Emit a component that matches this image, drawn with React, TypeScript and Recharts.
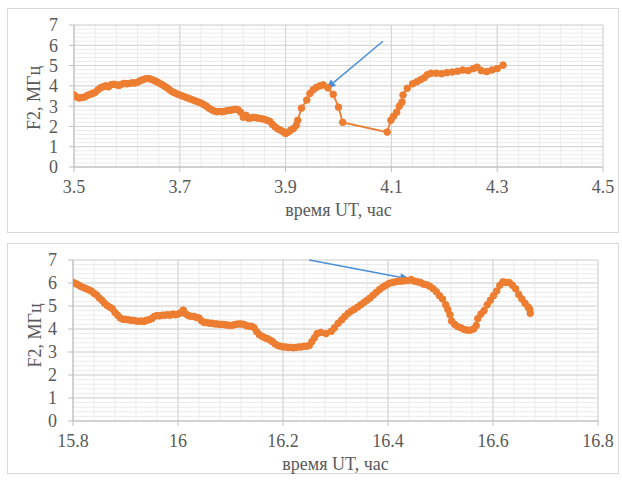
import React from 'react';
import { ComposedChart, Line, XAxis, YAxis, CartesianGrid, ReferenceLine } from 'recharts';

// ---------- data ----------
const topTime = [
  3.500, 3.505, 3.510, 3.515, 3.520, 3.525, 3.530, 3.535, 3.540, 3.545,
  3.550, 3.555, 3.560, 3.565, 3.570, 3.575, 3.580, 3.585, 3.590, 3.595,
  3.600, 3.605, 3.610, 3.615, 3.620, 3.625, 3.630, 3.635, 3.640, 3.645,
  3.650, 3.655, 3.660, 3.665, 3.670, 3.675, 3.680, 3.685, 3.690, 3.695,
  3.700, 3.705, 3.710, 3.715, 3.720, 3.725, 3.730, 3.735, 3.740, 3.745,
  3.750, 3.755, 3.760, 3.765, 3.770, 3.775, 3.780, 3.785, 3.790, 3.795,
  3.800, 3.805, 3.810, 3.815, 3.820, 3.825, 3.830, 3.835, 3.840, 3.845,
  3.850, 3.855, 3.860, 3.865, 3.870, 3.875, 3.880, 3.885, 3.890, 3.895,
  3.900, 3.905, 3.910, 3.915, 3.920,
  3.923, 3.930, 3.940, 3.946, 3.952, 3.958, 3.965, 3.971, 3.980, 3.990,
  4.000, 4.008, 4.092, 4.099, 4.104, 4.110, 4.115, 4.120, 4.122, 4.130,
  4.140, 4.148, 4.155, 4.162, 4.168, 4.175, 4.185, 4.195, 4.205, 4.215,
  4.225, 4.235, 4.245, 4.255, 4.262, 4.270, 4.280, 4.290, 4.300, 4.311,
];
const topF2 = [
  3.55, 3.45, 3.40, 3.42, 3.45, 3.52, 3.58, 3.62, 3.68, 3.80,
  3.90, 3.95, 4.00, 3.95, 4.05, 4.08, 4.05, 4.02, 4.08, 4.12,
  4.10, 4.12, 4.15, 4.14, 4.18, 4.25, 4.30, 4.35, 4.36, 4.33,
  4.28, 4.22, 4.15, 4.08, 4.00, 3.92, 3.82, 3.72, 3.66, 3.60,
  3.55, 3.50, 3.45, 3.40, 3.35, 3.30, 3.25, 3.20, 3.15, 3.08,
  3.00, 2.90, 2.82, 2.76, 2.72, 2.74, 2.72, 2.75, 2.78, 2.80,
  2.82, 2.85, 2.82, 2.70, 2.45, 2.55, 2.40, 2.42, 2.45, 2.42,
  2.40, 2.38, 2.35, 2.30, 2.25, 2.10, 1.98, 1.88, 1.82, 1.75,
  1.65, 1.72, 1.82, 1.90, 2.05,
  2.30, 2.90, 3.30, 3.62, 3.80, 3.92, 4.00, 4.05, 3.90, 3.58,
  2.95, 2.20, 1.72, 2.30, 2.50, 2.70, 3.00, 3.20, 3.55, 3.88,
  4.10, 4.20, 4.30, 4.40, 4.55, 4.62, 4.62, 4.60, 4.65, 4.68,
  4.72, 4.78, 4.75, 4.85, 4.92, 4.75, 4.70, 4.78, 4.85, 5.02,
];

const bottomTime = [
  15.800, 15.805, 15.810, 15.815, 15.820, 15.825, 15.830, 15.835, 15.840, 15.845,
  15.850, 15.855, 15.860, 15.865, 15.870, 15.875, 15.880, 15.885, 15.890, 15.895,
  15.900, 15.905, 15.910, 15.915, 15.920, 15.925, 15.930, 15.935, 15.940, 15.945,
  15.950, 15.955, 15.960, 15.965, 15.970, 15.975, 15.980, 15.985, 15.990, 15.995,
  16.000, 16.005, 16.010, 16.015, 16.020, 16.025, 16.030, 16.035, 16.040, 16.045,
  16.050, 16.055, 16.060, 16.065, 16.070, 16.075, 16.080, 16.085, 16.090, 16.095,
  16.100, 16.105, 16.110, 16.115, 16.120, 16.125, 16.130, 16.135, 16.140, 16.145,
  16.150, 16.155, 16.160, 16.165, 16.170, 16.175, 16.180, 16.185, 16.190, 16.195,
  16.200, 16.205, 16.210, 16.215, 16.220, 16.225, 16.230, 16.235, 16.240, 16.245,
  16.250, 16.255, 16.260, 16.265, 16.272, 16.282, 16.292, 16.298, 16.305, 16.312,
  16.318, 16.324, 16.330, 16.336, 16.342, 16.348, 16.354, 16.360, 16.366, 16.372,
  16.378, 16.384, 16.390, 16.396, 16.402, 16.408, 16.414, 16.420, 16.426, 16.432,
  16.438, 16.444, 16.450, 16.456, 16.462, 16.468, 16.474, 16.480, 16.486, 16.492,
  16.498, 16.504, 16.510, 16.514, 16.518, 16.521, 16.527, 16.533, 16.539, 16.545,
  16.551, 16.557, 16.563, 16.568, 16.571, 16.577, 16.583, 16.589, 16.595, 16.601,
  16.607, 16.613, 16.619, 16.625, 16.631, 16.637, 16.643, 16.649, 16.655, 16.661,
  16.667, 16.670, 16.671,
];
const bottomF2 = [
  6.02, 5.98, 5.92, 5.85, 5.80, 5.75, 5.70, 5.65, 5.55, 5.48,
  5.35, 5.25, 5.12, 5.02, 4.95, 4.88, 4.72, 4.60, 4.48, 4.42,
  4.42, 4.40, 4.38, 4.38, 4.35, 4.33, 4.35, 4.33, 4.38, 4.40,
  4.45, 4.55, 4.58, 4.57, 4.60, 4.60, 4.62, 4.60, 4.65, 4.62,
  4.65, 4.70, 4.82, 4.65, 4.58, 4.55, 4.55, 4.50, 4.48, 4.35,
  4.28, 4.28, 4.25, 4.25, 4.22, 4.22, 4.20, 4.20, 4.18, 4.17,
  4.15, 4.17, 4.20, 4.22, 4.22, 4.20, 4.15, 4.12, 4.12, 4.05,
  3.88, 3.75, 3.68, 3.62, 3.58, 3.52, 3.45, 3.35, 3.28, 3.25,
  3.22, 3.22, 3.20, 3.20, 3.18, 3.20, 3.22, 3.22, 3.25, 3.25,
  3.28, 3.45, 3.62, 3.80, 3.85, 3.80, 3.90, 4.05, 4.25, 4.40,
  4.55, 4.68, 4.78, 4.86, 4.95, 5.05, 5.15, 5.25, 5.35, 5.48,
  5.60, 5.72, 5.82, 5.90, 5.98, 6.02, 6.05, 6.08, 6.08, 6.10,
  6.10, 6.15, 6.08, 6.05, 6.02, 5.95, 5.92, 5.85, 5.75, 5.62,
  5.45, 5.30, 5.05, 4.85, 4.62, 4.35, 4.20, 4.10, 4.05, 3.98,
  3.95, 3.95, 4.00, 4.15, 4.45, 4.65, 4.80, 5.05, 5.25, 5.45,
  5.65, 5.90, 6.05, 6.02, 6.02, 5.90, 5.75, 5.50, 5.30, 5.12,
  4.95, 4.85, 4.68,
];

const topXTicks = [3.5, 3.7, 3.9, 4.1, 4.3, 4.5];
const bottomXTicks = [15.8, 16, 16.2, 16.4, 16.6, 16.8];
const yTicks = [0, 1, 2, 3, 4, 5, 6, 7];

// arrow annotations (start -> end, data coordinates)
const topArrow = [{ x: 4.084, y: 6.2 }, { x: 3.976, y: 3.84 }];
const bottomArrow = [{ x: 16.25, y: 7.0 }, { x: 16.442, y: 6.17 }];

const yTitle = 'F2, МГц';
const xTitle = 'время UT, час';

// ---------- helpers ----------
const steps = (a: number, b: number, s: number) => {
  const out: number[] = [];
  const n = Math.round((b - a) / s);
  for (let i = 0; i <= n; i++) out.push(Math.round((a + i * s) * 1000) / 1000);
  return out;
};

const topData = topTime.map((t, i) => ({ t, v: topF2[i] }));
const bottomData = bottomTime.map((t, i) => ({ t, v: bottomF2[i] }));

const ORANGE = '#ED7D31';
const BLUE = '#4A8FD8';
const FONT = '"Liberation Serif", "Times New Roman", serif';
const tickStyle = { fill: '#595959', fontSize: 18, fontFamily: FONT };

const arrowShape = (p: any) => {
  const { x1, y1, x2, y2 } = p;
  const ang = Math.atan2(y2 - y1, x2 - x1);
  const L = 10, W = 4;
  const bx = x2 - L * Math.cos(ang);
  const by = y2 - L * Math.sin(ang);
  const px = -Math.sin(ang) * W;
  const py = Math.cos(ang) * W;
  return (
    <g>
      <line x1={x1} y1={y1} x2={bx} y2={by} stroke={BLUE} strokeWidth={1.5} />
      <polygon points={`${x2},${y2} ${bx + px},${by + py} ${bx - px},${by - py}`} fill={BLUE} />
    </g>
  );
};

type PanelProps = {
  data: { t: number; v: number }[];
  domain: [number, number];
  ticks: number[];
  arrow: { x: number; y: number }[];
  width: number;
  height: number;
  margin: { top: number; right: number };
  yWidth: number;
  xHeight: number;
  yLabelDx: number;
  yLabelDy: number;
  xLabelOffset: number;
};

const Panel = (p: PanelProps) => {
  const minorX = steps(p.domain[0], p.domain[1], 0.04);
  const minorY = steps(0, 7, 0.2);
  return (
    <ComposedChart
      width={p.width}
      height={p.height}
      data={p.data}
      margin={{ top: p.margin.top, right: p.margin.right, left: 0, bottom: 0 }}
    >
      <CartesianGrid stroke="#ebebeb" strokeWidth={1} verticalValues={minorX} horizontalValues={minorY} />
      <CartesianGrid stroke="#d4d4d4" strokeWidth={1} verticalValues={p.ticks} horizontalValues={yTicks} />
      <XAxis
        dataKey="t"
        type="number"
        domain={p.domain}
        ticks={p.ticks}
        interval={0}
        allowDataOverflow
        height={p.xHeight}
        stroke="#bfbfbf"
        tickSize={5}
        tickMargin={8}
        tick={tickStyle}
        tickFormatter={(v: number) => String(v)}
        label={{ value: xTitle, position: 'insideBottom', offset: p.xLabelOffset, style: { ...tickStyle } }}
      />
      <YAxis
        type="number"
        domain={[0, 7]}
        ticks={yTicks}
        interval={0}
        width={p.yWidth}
        stroke="#bfbfbf"
        tickSize={5}
        tickMargin={11}
        tick={tickStyle}
        label={{ value: yTitle, angle: -90, position: 'center', dx: p.yLabelDx, dy: p.yLabelDy, style: { ...tickStyle } }}
      />
      <Line
        dataKey="v"
        type="linear"
        stroke={ORANGE}
        strokeWidth={1.8}
        dot={{ r: 3.3, fill: ORANGE, stroke: ORANGE, strokeWidth: 1 }}
        isAnimationActive={false}
      />
      <ReferenceLine segment={p.arrow} ifOverflow="visible" shape={arrowShape} />
    </ComposedChart>
  );
};

export default function App() {
  return (
    <div style={{ position: 'absolute', left: 0, top: 0, width: 622, height: 482, background: '#fff' }}>
      <div style={{ position: 'absolute', left: 7, top: 8, width: 612, height: 225, boxSizing: 'border-box', border: '1px solid #d9d9d9' }} />
      <div style={{ position: 'absolute', left: 7, top: 8 }}>
        <Panel
          data={topData}
          domain={[3.5, 4.5]}
          ticks={topXTicks}
          arrow={topArrow}
          width={612}
          height={225}
          margin={{ top: 17, right: 16 }}
          yWidth={67}
          xHeight={66}
          yLabelDx={-7}
          yLabelDy={2}
          xLabelOffset={17}
        />
      </div>
      <div style={{ position: 'absolute', left: 7, top: 243, width: 612, height: 231, boxSizing: 'border-box', border: '1px solid #d9d9d9' }} />
      <div style={{ position: 'absolute', left: 7, top: 243 }}>
        <Panel
          data={bottomData}
          domain={[15.8, 16.8]}
          ticks={bottomXTicks}
          arrow={bottomArrow}
          width={612}
          height={231}
          margin={{ top: 17, right: 21 }}
          yWidth={66}
          xHeight={53}
          yLabelDx={-5}
          yLabelDy={-5}
          xLabelOffset={4}
        />
      </div>
    </div>
  );
}
